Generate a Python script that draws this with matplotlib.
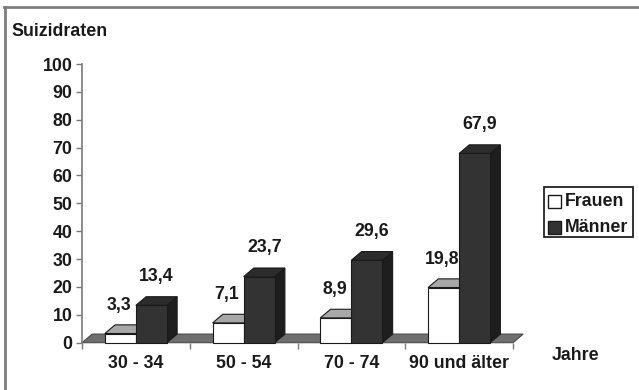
import numpy as np
import matplotlib.pyplot as plt
from matplotlib.patches import Polygon, Rectangle
from matplotlib.lines import Line2D

plt.rcParams['font.family'] = ['Liberation Sans', 'DejaVu Sans']
plt.rcParams['font.weight'] = 'bold'

# data
categories = ['30 - 34', '50 - 54', '70 - 74', '90 und älter']
frauen = [3.3, 7.1, 8.9, 19.8]
maenner = [13.4, 23.7, 29.6, 67.9]
frauen_labels = ['3,3', '7,1', '8,9', '19,8']
maenner_labels = ['13,4', '23,7', '29,6', '67,9']
y_ticks = np.arange(0, 101, 10)

W, H = 639, 390
txt_col = '#1a1a1a'
fsize = 12.8

fig = plt.figure(figsize=(W / 100, H / 100), dpi=100)
ax = fig.add_axes([82 / W, (H - 342.7) / H, 431 / W, 278.7 / H])
ax.set_xlim(0, len(categories))
ax.set_ylim(0, 100)

bar_w = 0.288   # width of one bar (category units)
dx = 0.095      # depth offset x
dy = 3.1        # depth offset y


def draw_bar(x0, x1, h, c_front, c_side, c_top, ec='#1a1a1a'):
    side = Polygon([(x1, 0), (x1 + dx, dy), (x1 + dx, h + dy), (x1, h)],
                   closed=True, fc=c_side, ec=ec, lw=0.8, clip_on=False)
    top = Polygon([(x0, h), (x1, h), (x1 + dx, h + dy), (x0 + dx, h + dy)],
                  closed=True, fc=c_top, ec=ec, lw=0.8, clip_on=False)
    front = Polygon([(x0, 0), (x1, 0), (x1, h), (x0, h)],
                    closed=True, fc=c_front, ec=ec, lw=0.8, clip_on=False)
    ax.add_patch(side)
    ax.add_patch(top)
    ax.add_patch(front)


# floor
n = len(categories)
floor = Polygon([(0, 0), (n, 0), (n + dx, dy), (dx, dy)], closed=True,
                fc='#6e6e6e', ec='#4a4a4a', lw=0.8, clip_on=False)
ax.add_patch(floor)

for i in range(n):
    c = i + 0.5
    draw_bar(c - bar_w, c, frauen[i], 'white', '#9a9a9a', '#a8a8a8')
    draw_bar(c, c + bar_w, maenner[i], '#333333', '#1e1e1e', '#2c2c2c')
    ax.annotate(frauen_labels[i], xy=(c - bar_w / 2 - 0.01, frauen[i] + dy),
                xytext=(0, 14.2), textcoords='offset points',
                ha='center', va='center', fontsize=fsize, color=txt_col,
                fontweight='bold', annotation_clip=False)
    ax.annotate(maenner_labels[i], xy=(c + bar_w / 2 + dx / 2, maenner[i] + dy),
                xytext=(0, 14.6), textcoords='offset points',
                ha='center', va='center', fontsize=fsize, color=txt_col,
                fontweight='bold', annotation_clip=False)

# axes styling
for s in ['top', 'right', 'bottom']:
    ax.spines[s].set_visible(False)
ax.spines['left'].set_color('#7a7a7a')
ax.spines['left'].set_linewidth(1.2)
ax.set_yticks(y_ticks)
ax.set_yticklabels([str(v) for v in y_ticks], fontweight='bold')
ax.tick_params(axis='y', length=4, width=1, color='#7a7a7a', pad=3,
               labelsize=fsize, labelcolor=txt_col)

ax.set_xticks(np.arange(0, n + 1))
ax.set_xticklabels([])
ax.set_xticks(np.arange(n) + 0.5, minor=True)
ax.set_xticklabels(categories, minor=True, fontweight='bold')
ax.tick_params(axis='x', which='major', length=4, width=1, color='#7a7a7a')
ax.tick_params(axis='x', which='minor', length=0, pad=9,
               labelsize=fsize, labelcolor=txt_col)

# titles
fig.text(11 / W, 1 - 31 / H, 'Suizidraten', ha='left', va='center',
         fontsize=fsize, fontweight='bold', color=txt_col)
fig.text(552 / W, 1 - 355 / H, 'Jahre', ha='left', va='center',
         fontsize=fsize, fontweight='bold', color=txt_col)

# legend (drawn by hand)
fig.patches.append(Rectangle((544 / W, 1 - 237 / H), 89 / W, 50 / H,
                             transform=fig.transFigure, fc='white',
                             ec='#222222', lw=1.3))
leg_items = [('Frauen', 'white', 201.7), ('Männer', '#333333', 227.7)]
for name, col, yc in leg_items:
    fig.patches.append(Rectangle((547.5 / W, 1 - (yc + 6.5) / H), 13 / W, 13 / H,
                                 transform=fig.transFigure, fc=col,
                                 ec='#1a1a1a', lw=1.0))
    fig.text(565 / W, 1 - yc / H, name, ha='left', va='center',
             fontsize=fsize, fontweight='bold', color=txt_col)

# outer frame (top and left edge)
fig.lines.append(Line2D([4 / W, 1], [1 - 7 / H, 1 - 7 / H],
                        transform=fig.transFigure, color='#7d7d7d', lw=2))
fig.lines.append(Line2D([4.5 / W, 4.5 / W], [0, 1 - 7 / H],
                        transform=fig.transFigure, color='#7d7d7d', lw=2))

fig.savefig('out.png', dpi=100)
